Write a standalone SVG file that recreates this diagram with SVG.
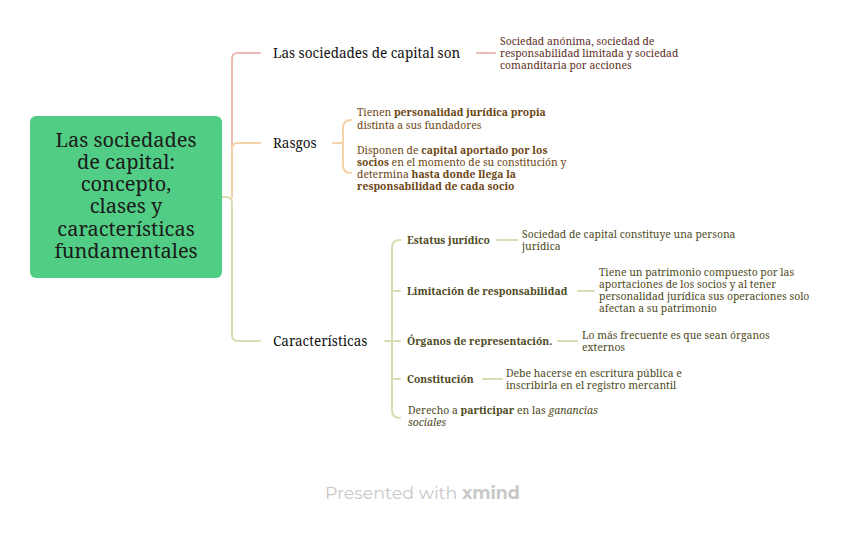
<svg xmlns="http://www.w3.org/2000/svg" width="848" height="538" viewBox="0 0 848 538">
<style>
text{font-family:"Noto Serif","DejaVu Serif Condensed","DejaVu Serif",serif}
.t{font-size:20px;fill:#1a1a1a;text-anchor:middle}
.m{font-size:13.5px;fill:#111}
.s{font-size:10.4px}
.p{fill:#5e2f26}
.o{fill:#6b4513}
.g{fill:#4e4a1e}
.b{font-weight:bold}
.c{fill:none;stroke-width:2;stroke-linecap:round}
.cp{stroke:#ebbcb6}
.co{stroke:#f6d2a8}
.cg{stroke:#dadcb2}
.wm{font-family:"Montserrat","Noto Sans","Open Sans",sans-serif;font-size:17.4px;fill:#c8c8c8}
</style>
<rect width="848" height="538" fill="#fff"/>
<g id="connectors">
<path class="c cp" d="M232,197 V59 Q232,53 238,53 H260"/>
<path class="c co" d="M232,197 V149 Q232,143 238,143 H260"/>
<path class="c cg" d="M222,197 H226 Q232,197 232,203 V335 Q232,341 238,341 H260"/>
<path class="c cp" d="M477,53 H495"/>
<path class="c co" d="M333,143 H343 M351,120 Q343,120 343,128 V165 Q343,173 351,173"/>
<path class="c cg" d="M385,341 H400 M400,240 Q392,240 392,248 V410 Q392,418 400,418 M392,291 H400 M392,379 H400"/>
<path class="c cg" d="M497,240 H517 M578,291 H594 M558,341 H577 M483,379 H502"/>
</g>
<g id="root">
<rect x="30" y="116" width="192" height="162" rx="6" fill="#52cd85"/>
<text class="t" x="126" y="147">Las sociedades</text>
<text class="t" x="126" y="169">de capital:</text>
<text class="t" x="126" y="191">concepto,</text>
<text class="t" x="126" y="213">clases y</text>
<text class="t" x="126" y="236">características</text>
<text class="t" x="126" y="258">fundamentales</text>
</g>
<g id="n1">
<text class="m" x="273" y="58">Las sociedades de capital son</text>
</g>
<g id="n1a">
<text class="s p" x="500" y="45">Sociedad anónima, sociedad de</text>
<text class="s p" x="500" y="57">responsabilidad limitada y sociedad</text>
<text class="s p" x="500" y="69">comanditaria por acciones</text>
</g>
<g id="n2">
<text class="m" x="273" y="148">Rasgos</text>
</g>
<g id="n2a">
<text class="s o" x="357" y="116">Tienen <tspan class="b">personalidad jurídica propia</tspan></text>
<text class="s o" x="357" y="129">distinta a sus fundadores</text>
</g>
<g id="n2b">
<text class="s o" x="357" y="154">Disponen de <tspan class="b">capital aportado por los</tspan></text>
<text class="s o" x="357" y="166"><tspan class="b">socios</tspan> en el momento de su constitución y</text>
<text class="s o" x="357" y="178">determina <tspan class="b">hasta donde llega la</tspan></text>
<text class="s o b" x="357" y="190">responsabilidad de cada socio</text>
</g>
<g id="n3">
<text class="m" x="273" y="346">Características</text>
</g>
<g id="n3a">
<text class="s g b" x="407" y="244">Estatus jurídico</text>
</g>
<g id="n3a1">
<text class="s g" x="522" y="238">Sociedad de capital constituye una persona</text>
<text class="s g" x="522" y="250">jurídica</text>
</g>
<g id="n3b">
<text class="s g b" x="407" y="295">Limitación de responsabilidad</text>
</g>
<g id="n3b1">
<text class="s g" x="599" y="276">Tiene un patrimonio compuesto por las</text>
<text class="s g" x="599" y="288">aportaciones de los socios y al tener</text>
<text class="s g" x="599" y="300">personalidad jurídica sus operaciones solo</text>
<text class="s g" x="599" y="312">afectan a su patrimonio</text>
</g>
<g id="n3c">
<text class="s g b" x="407" y="345">Órganos de representación.</text>
</g>
<g id="n3c1">
<text class="s g" x="582" y="339">Lo más frecuente es que sean órganos</text>
<text class="s g" x="582" y="351">externos</text>
</g>
<g id="n3d">
<text class="s g b" x="407" y="383">Constitución</text>
</g>
<g id="n3d1">
<text class="s g" x="506" y="377">Debe hacerse en escritura pública e</text>
<text class="s g" x="506" y="389">inscribirla en el registro mercantil</text>
</g>
<g id="n3e">
<text class="s g" x="408" y="414">Derecho a <tspan class="b">participar</tspan> en las <tspan font-style="italic">ganancias</tspan></text>
<text class="s g" x="408" y="426" font-style="italic">sociales</text>
</g>
<text class="wm" x="325" y="499">Presented with <tspan font-weight="bold">xmind</tspan></text>
</svg>
